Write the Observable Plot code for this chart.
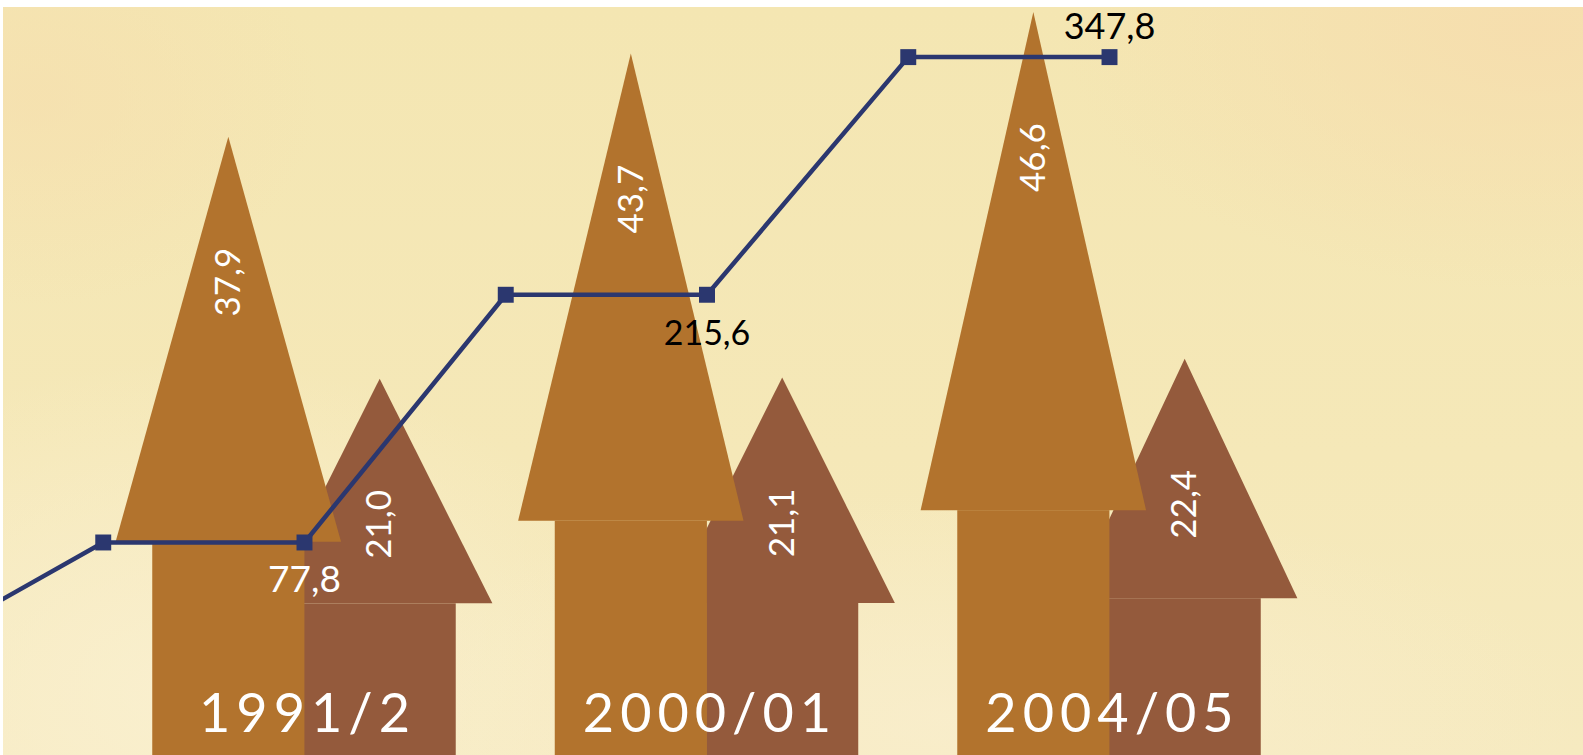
<!DOCTYPE html>
<html>
<head>
<meta charset="utf-8">
<script src="https://cdn.jsdelivr.net/npm/d3@7"></script>
<script src="https://cdn.jsdelivr.net/npm/@observablehq/plot@0.6"></script>
<style>
  html, body { margin: 0; padding: 0; background: #ffffff; }
  #wrap {
    position: absolute; left: 3px; top: 7px; width: 1580px; height: 748px; overflow: hidden;
    background:
      radial-gradient(ellipse 30% 45% at 12% 92%, rgba(250,240,208,0.9), rgba(250,240,208,0) 100%),
      radial-gradient(ellipse 30% 35% at 97% 3%, rgba(246,221,173,0.9), rgba(246,221,173,0) 100%),
      radial-gradient(ellipse 18% 28% at 2% 12%, rgba(246,223,174,0.7), rgba(246,223,174,0) 100%),
      radial-gradient(ellipse 40% 30% at 60% 95%, rgba(249,238,205,0.8), rgba(249,238,205,0) 100%),
      linear-gradient(180deg, #F4E6B2 0%, #F5E8B8 60%, #F6EAC0 100%);
  }
  #wrap svg { position: absolute; left: 0; top: 0; }
  #lineLayer { position: absolute; left: 3px; top: 0; width: 1580px; height: 755px; overflow: hidden; }
  #lineLayer svg { position: absolute; left: 0; top: 0; }
</style>
</head>
<body>
<div id="wrap"></div>
<div id="lineLayer"></div>
<script>
// ---- data ----
const categories = ["1991/2", "2000/01", "2004/05"];
const bigArrowValues = [37.9, 43.7, 46.6];
const smallArrowValues = [21.0, 21.1, 22.4];
const lineValues = [77.8, 215.6, 347.8];
const linePriorValue = 14.7; // earlier point, running off the left edge

// ---- layout / style constants ----
const W = 1580, H = 748, TOP = 7;
const xDomain = [-0.7478, 3.1776];
const yArrowDomain = [-5.25, 46.95];
const yLineDomain = [-40.7, 375.4];
const GEOM = {offset: 0.188, shaft: 0.189, head: 0.28, headFrac: 0.254};
const BIG = "#B2732D", SMALL = "#945A3C", NAVY = "#2B376F";
const FONT = "Lato, 'Open Sans', sans-serif";
const fmt = v => v.toFixed(1).replace(".", ",");

const arrows = categories.flatMap((c, i) => [
  {cat: c, i, kind: "small", value: smallArrowValues[i]},
  {cat: c, i, kind: "big", value: bigArrowValues[i]}
]);
arrows.forEach(a => {
  a.cx = a.i + (a.kind === "big" ? -GEOM.offset : GEOM.offset);
  a.base = a.value * GEOM.headFrac;
  a.id = a.kind + a.i;
});
const headPts = a => [
  {id: a.id, x: a.cx - GEOM.head, y: a.base, base: a.base},
  {id: a.id, x: a.cx, y: a.value, base: a.base},
  {id: a.id, x: a.cx + GEOM.head, y: a.base, base: a.base}
];
const small = arrows.filter(a => a.kind === "small");
const big = arrows.filter(a => a.kind === "big");

function arrowMarks(list, color) {
  return [
    Plot.rect(list, {x1: a => a.cx - GEOM.shaft, x2: a => a.cx + GEOM.shaft, y1: yArrowDomain[0], y2: "base", fill: color}),
    Plot.areaY(list.flatMap(headPts), {x: "x", y1: "base", y2: "y", z: "id", fill: color})
  ];
}

const catLabels = categories.map((c, i) => ({cat: c, i}));
const LS = 6;

const chartArrows = Plot.plot({
  width: W, height: H, margin: 0,
  style: {background: "transparent", overflow: "hidden"},
  x: {type: "linear", domain: xDomain, range: [0, W], axis: null},
  y: {type: "linear", domain: yArrowDomain, range: [H, 0], axis: null},
  marks: [
    ...arrowMarks(small, SMALL),
    ...arrowMarks(big, BIG),
    Plot.text(arrows, {x: "cx", y: "value", text: a => fmt(a.value), rotate: -90, dy: 145,
      fill: "white", fontSize: 35, fontFamily: FONT, textAnchor: "middle", lineAnchor: "middle"}),
    Plot.text(catLabels, {x: "i", text: "cat", frameAnchor: "bottom", lineAnchor: "bottom", dy: -24, dx: LS / 2,
      fill: "white", fontSize: 54, fontFamily: FONT, textAnchor: "middle"})
  ]
});

// line data
const linePts = [{x: -1, v: linePriorValue},
  ...lineValues.flatMap((v, i) => [{x: i - 0.5, v}, {x: i, v}])];
const dotPts = linePts.slice(1);
const valPts = lineValues.map((v, i) => ({x: i, v}));

const chartLine = Plot.plot({
  width: W, height: H + TOP, marginTop: TOP, marginLeft: 0, marginRight: 0, marginBottom: 0,
  style: {background: "transparent", overflow: "hidden"},
  x: {type: "linear", domain: xDomain, axis: null},
  y: {type: "linear", domain: yLineDomain, axis: null},
  marks: [
    Plot.line(linePts, {x: "x", y: "v", stroke: NAVY, strokeWidth: 4.5, curve: "linear"}),
    Plot.dot(dotPts, {x: "x", y: "v", symbol: "square", r: 9, fill: NAVY, stroke: "none"}),
    Plot.text(valPts.slice(0, 1), {x: "x", y: "v", text: d => fmt(d.v), dy: 38, fill: "white",
      fontSize: 37, fontFamily: FONT, textAnchor: "middle"}),
    Plot.text(valPts.slice(1, 2), {x: "x", y: "v", text: d => fmt(d.v), dy: 39, fill: "black",
      fontSize: 34, fontFamily: FONT, textAnchor: "middle"}),
    Plot.text(valPts.slice(2, 3), {x: "x", y: "v", text: d => fmt(d.v), dy: -30, fill: "black",
      fontSize: 36, fontFamily: FONT, textAnchor: "middle"})
  ]
});

document.getElementById("wrap").appendChild(chartArrows);
document.getElementById("lineLayer").appendChild(chartLine);
// widen the category labels like the original typeface
d3.select(chartArrows).selectAll("text")
  .filter(function() { return categories.includes(this.textContent); })
  .attr("letter-spacing", LS);
</script>
</body>
</html>
